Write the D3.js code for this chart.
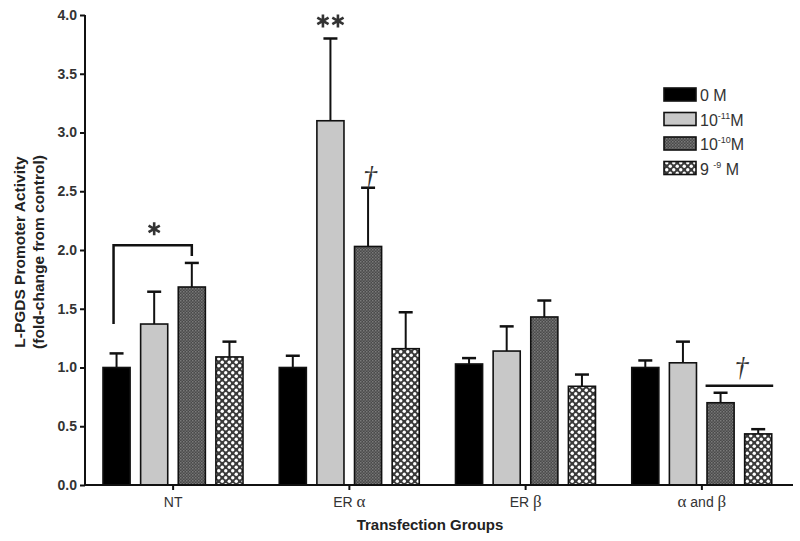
<!DOCTYPE html>
<html><head><meta charset="utf-8">
<script src="https://cdn.jsdelivr.net/npm/d3@7"></script>
<style>body{margin:0;background:#fff}</style>
</head><body>
<svg id="c" width="800" height="541"></svg>
<script>
const groups = ["NT", "ER α", "ER β", "α and β"];
const series = ["0 M", "10-11M", "10-10M", "9-9M"];
const means = [
  [1.00, 1.37, 1.685, 1.09],
  [1.00, 3.10, 2.03, 1.16],
  [1.03, 1.14, 1.43, 0.84],
  [1.00, 1.04, 0.70, 0.435]
];
const errTops = [
  [1.12, 1.645, 1.89, 1.22],
  [1.10, 3.80, 2.53, 1.47],
  [1.08, 1.35, 1.57, 0.94],
  [1.06, 1.22, 0.785, 0.475]
];
const yTicks = [0, 0.5, 1.0, 1.5, 2.0, 2.5, 3.0, 3.5, 4.0];

const svg = d3.select("#c");
const defs = svg.append("defs");
const p1 = defs.append("pattern").attr("id","dark").attr("patternUnits","userSpaceOnUse").attr("width",3).attr("height",3);
p1.append("rect").attr("width",3).attr("height",3).attr("fill","#4a4a4a");
p1.append("rect").attr("x",0).attr("y",0).attr("width",1.5).attr("height",1.5).attr("fill","#7a7a7a");
p1.append("rect").attr("x",1.5).attr("y",1.5).attr("width",1.5).attr("height",1.5).attr("fill","#6a6a6a");
const p2 = defs.append("pattern").attr("id","cross").attr("patternUnits","userSpaceOnUse").attr("width",7).attr("height",7);
p2.append("rect").attr("width",7).attr("height",7).attr("fill","#3a3a3a");
p2.append("circle").attr("cx",1.75).attr("cy",1.75).attr("r",1.7).attr("fill","#fff");
p2.append("circle").attr("cx",5.25).attr("cy",5.25).attr("r",1.7).attr("fill","#fff");

const fills = ["#000", "#c8c8c8", "url(#dark)", "url(#cross)"];

const x0 = d3.scaleBand().domain(groups).range([85, 790]);
const x1 = d3.scaleBand().domain(series).range([18, 158]).paddingInner(0.28);
const y = d3.scaleLinear().domain([0, 4]).range([485, 15]);

const font = "Arial, 'Liberation Sans', Helvetica, sans-serif";
const serif = "'Liberation Serif', 'DejaVu Serif', serif";

groups.forEach((g, gi) => {
  series.forEach((s, si) => {
    const bx = x0(g) + x1(s);
    const bw = x1.bandwidth();
    const cx = bx + bw / 2;
    svg.append("line").attr("x1",cx).attr("x2",cx).attr("y1",y(means[gi][si])).attr("y2",y(errTops[gi][si]))
      .attr("stroke","#111").attr("stroke-width",2);
    svg.append("line").attr("x1",cx-7).attr("x2",cx+7).attr("y1",y(errTops[gi][si])).attr("y2",y(errTops[gi][si]))
      .attr("stroke","#111").attr("stroke-width",2.5);
    svg.append("rect").attr("x",bx).attr("y",y(means[gi][si])).attr("width",bw).attr("height",y(0)-y(means[gi][si]))
      .attr("fill",fills[si]).attr("stroke","#111").attr("stroke-width",1.6);
  });
});

const yAxis = d3.axisLeft(y).tickValues(yTicks).tickFormat(d3.format(".1f")).tickSize(5);
const gy = svg.append("g").attr("transform","translate(85,0)").call(yAxis);
gy.select(".domain").attr("stroke","#111").attr("stroke-width",2).attr("d","M0,15V486");
gy.selectAll(".tick line").attr("stroke","#111").attr("stroke-width",2);
gy.selectAll(".tick text").attr("font-family",font).attr("font-size",14).attr("font-weight","bold").attr("fill","#333").attr("dx",0);

const xAxis = d3.axisBottom(x0).tickSize(5).tickFormat("");
const gx = svg.append("g").attr("transform","translate(0,485)").call(xAxis);
gx.select(".domain").attr("stroke","#111").attr("stroke-width",2).attr("d","M84,0H793");
gx.selectAll(".tick line").attr("stroke","#111").attr("stroke-width",2);

const labelParts = [
  [["NT", font]],
  [["ER ", font], ["α", serif]],
  [["ER ", font], ["β", serif]],
  [["α", serif], [" and ", font], ["β", serif]]
];
groups.forEach((g, gi) => {
  const t = svg.append("text").attr("x", x0(g) + x0.bandwidth()/2).attr("y", 507)
    .attr("text-anchor","middle").attr("fill","#333");
  labelParts[gi].forEach(([txt, f]) => {
    t.append("tspan").attr("font-family", f).attr("font-size", f === font ? 14 : 17).text(txt);
  });
});

svg.append("text").attr("x",430).attr("y",530).attr("text-anchor","middle")
  .attr("font-family",font).attr("font-size",15).attr("font-weight","bold").attr("fill","#222").text("Transfection Groups");

const yt = svg.append("text").attr("transform","translate(25,252) rotate(-90)").attr("text-anchor","middle")
  .attr("font-family",font).attr("font-size",15.5).attr("font-weight","bold").attr("fill","#222");
yt.append("tspan").attr("x",0).attr("dy",0).text("L-PGDS Promoter Activity");
yt.append("tspan").attr("x",0).attr("dy",19).text("(fold-change from control)");

const cxOf = (gi, si) => x0(groups[gi]) + x1(series[si]) + x1.bandwidth()/2;
function asterisk(cx, cy, r) {
  let d = "";
  for (let k = 0; k < 3; k++) {
    const a = Math.PI / 2 + k * Math.PI / 3;
    d += `M${cx + r*Math.cos(a)},${cy + r*Math.sin(a)}L${cx - r*Math.cos(a)},${cy - r*Math.sin(a)}`;
  }
  svg.append("path").attr("d", d).attr("stroke","#333").attr("stroke-width",2.6).attr("fill","none");
}
svg.append("path").attr("d", `M${cxOf(0,0)-3},${y(1.37)}V${y(2.04)}H${cxOf(0,2)}V${y(1.95)}`)
  .attr("fill","none").attr("stroke","#111").attr("stroke-width",2.5);
asterisk((cxOf(0,0)+cxOf(0,2))/2, y(2.18), 6.5);
asterisk(cxOf(1,1)-7.5, y(3.95), 6.5);
asterisk(cxOf(1,1)+7.5, y(3.95), 6.5);

function dagger(cx, cy) {
  svg.append("text").attr("x",cx).attr("y",cy).attr("text-anchor","middle")
    .attr("font-family",serif).attr("font-style","italic").attr("font-size",28).attr("fill","#333").text("†");
}
dagger(cxOf(1,2)+2, y(2.55));
svg.append("line").attr("x1",cxOf(3,2)-15).attr("x2",cxOf(3,3)+15).attr("y1",y(0.845)).attr("y2",y(0.845))
  .attr("stroke","#111").attr("stroke-width",2.5);
dagger((cxOf(3,2)+cxOf(3,3))/2+2, y(0.93));

const legend = svg.append("g");
const legLabels = [
  [["0 M", false]],
  [["10", false], ["-11", true], ["M", false]],
  [["10", false], ["-10", true], ["M", false]],
  [["9  ", false], ["-9", true], [" M", false]]
];
series.forEach((s, si) => {
  const ly = 88 + si * 24.5;
  legend.append("rect").attr("x",664).attr("y",ly).attr("width",32).attr("height",13)
    .attr("fill",fills[si]).attr("stroke","#111").attr("stroke-width",1.6);
  const t = legend.append("text").attr("x",700).attr("y",ly+13).attr("font-family",font).attr("font-size",16).attr("fill","#333");
  legLabels[si].forEach(([txt, sup]) => {
    if (sup) t.append("tspan").attr("font-size",9).attr("dy",-7).text(txt);
    else {
      const ts = t.append("tspan").text(txt);
      if (t.selectAll("tspan").size() > 1) ts.attr("dy",7);
    }
  });
});
</script>
</body></html>
